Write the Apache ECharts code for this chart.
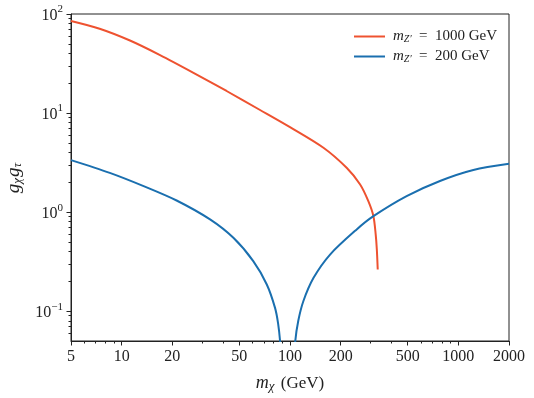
<!DOCTYPE html>
<html>
<head>
<meta charset="utf-8">
<script src="https://cdn.jsdelivr.net/npm/echarts@6/dist/echarts.min.js"></script>
<style>
	html, body { margin: 0; padding: 0; background: #fff; }
	#chart { width: 534px; height: 398px; }
</style>
</head>
<body>
<div id="chart"></div>
<script>
	// m_Z' = 1000 GeV
	var massRed = [5, 7.4, 11.2, 16.9, 26.7, 42, 66, 100, 158, 217, 261, 292, 313, 323, 328, 332];
	var gRed = [85, 71, 54, 38.5, 25.5, 16.7, 10.8, 7.2, 4.46, 2.8, 1.9, 1.29, 0.91, 0.594, 0.42, 0.264];

	// m_Z' = 200 GeV (null = gap at the zero)
	var massBlue = [5, 8.5, 13.5, 21.2, 33.5, 46.1, 60.5, 72.8, 81.5, 85, 87.3, 89, 100, 106, 107.5, 112, 120, 138, 173, 249, 313, 493, 778, 1228, 2000];
	var gBlue = [3.35, 2.49, 1.83, 1.31, 0.844, 0.55, 0.32, 0.186, 0.108, 0.075, 0.05, 0.03, null, 0.03, 0.05, 0.08, 0.126, 0.217, 0.373, 0.669, 0.91, 1.45, 2.06, 2.66, 3.07];

	var xMajor = [5, 10, 20, 50, 100, 200, 500, 1000, 2000];
	var xMinor = [6, 7, 8, 9, 30, 40, 60, 70, 80, 90, 300, 400, 600, 700, 800, 900];
	var yMajor = [0.1, 1, 10, 100];
	var yMajorExp = ['\u22121', '0', '1', '2'];
	var yMinor = [0.06, 0.07, 0.08, 0.09, 0.2, 0.3, 0.4, 0.5, 0.6, 0.7, 0.8, 0.9,
		2, 3, 4, 5, 6, 7, 8, 9, 20, 30, 40, 50, 60, 70, 80, 90];

	var xMin = 5, xMax = 2000, yMin = 0.05, yMax = 100;

	var lg = function(v) { return Math.log10(v); };
	var toPoints = function(xs, ys) {
		var pts = [];
		for (var i = 0; i < xs.length; i++) {
			pts.push(ys[i] == null ? [lg(xs[i]), null] : [lg(xs[i]), lg(ys[i])]);
		}
		return pts;
	};

	var serif = 'Liberation Serif';
	var axisColor = '#222';

	var baseX = function() {
		return {
			type: 'value', min: lg(xMin), max: lg(xMax), position: 'bottom',
			splitLine: { show: false },
			axisLine: { show: true, onZero: false, lineStyle: { color: axisColor, width: 1 } }
		};
	};
	var baseY = function() {
		return {
			type: 'value', min: lg(yMin), max: lg(yMax), position: 'left',
			splitLine: { show: false },
			axisLine: { show: true, onZero: false, lineStyle: { color: axisColor, width: 1 } }
		};
	};

	var xMain = baseX();
	xMain.axisTick = { show: true, length: 4.5, customValues: xMajor.map(lg), lineStyle: { color: axisColor } };
	xMain.axisLabel = {
		customValues: xMajor.map(lg), margin: 8,
		fontFamily: serif, fontSize: 16, color: '#222',
		formatter: function(v) { return String(Math.round(Math.pow(10, v))); }
	};
	xMain.name = '{i|m}{s|\u03c7} (GeV)';
	xMain.nameLocation = 'middle';
	xMain.nameGap = 33;
	xMain.nameTextStyle = {
		fontFamily: serif, fontSize: 17, color: '#222',
		rich: {
			i: { fontFamily: serif, fontStyle: 'italic', fontSize: 18, color: '#222' },
			s: { fontFamily: serif, fontStyle: 'italic', fontSize: 13, color: '#222', verticalAlign: 'bottom', padding: [6, 2, 0, 0] }
		}
	};

	var xSub = baseX();
	xSub.axisLine = { show: false, onZero: false };
	xSub.axisTick = { show: true, length: 2.5, customValues: xMinor.map(lg), lineStyle: { color: axisColor } };
	xSub.axisLabel = { show: false };

	var yMain = baseY();
	yMain.axisTick = { show: true, length: 4.5, customValues: yMajor.map(lg), lineStyle: { color: axisColor } };
	yMain.axisLabel = {
		customValues: yMajor.map(lg), margin: 8,
		fontFamily: serif, fontSize: 16, color: '#222',
		formatter: function(v) {
			var k = Math.round(v);
			return '{b|10}{e|' + yMajorExp[k + 1] + '}';
		},
		rich: {
			b: { fontFamily: serif, fontSize: 16, color: '#222', padding: [4, 0, 0, 0] },
			e: { fontFamily: serif, fontSize: 11, color: '#222', verticalAlign: 'top', padding: [0, 0, 6, 0] }
		}
	};
	yMain.name = '{i|g}{s|\u03c7}{i|g}{s|\u03c4}';
	yMain.nameLocation = 'middle';
	yMain.nameGap = 36;
	yMain.nameTextStyle = {
		fontFamily: serif, fontSize: 17, color: '#222',
		rich: {
			i: { fontFamily: serif, fontStyle: 'italic', fontSize: 19, color: '#222' },
			s: { fontFamily: serif, fontStyle: 'italic', fontSize: 13, color: '#222', verticalAlign: 'bottom', padding: [7, 1, 0, 0] }
		}
	};

	var ySub = baseY();
	ySub.axisLine = { show: false, onZero: false };
	ySub.axisTick = { show: true, length: 2.5, customValues: yMinor.map(lg), lineStyle: { color: axisColor } };
	ySub.axisLabel = { show: false };

	var legendRich = {
		i: { fontFamily: serif, fontStyle: 'italic', fontSize: 15, color: '#222' },
		s: { fontFamily: serif, fontStyle: 'italic', fontSize: 10, color: '#222', verticalAlign: 'bottom', padding: [4, 0, 0, 0] },
		t: { fontFamily: serif, fontSize: 15, color: '#222' }
	};
	var legendNames = {
		'red': '{i|m}{s|Z\u2032}{t|  =  1000 GeV}',
		'blue': '{i|m}{s|Z\u2032}{t|  =  200 GeV}'
	};

	var option = {
		animation: false,
		grid: {
			left: 71, right: 25, top: 14, bottom: 57, outerBoundsMode: 'none',
			show: true, borderColor: axisColor, borderWidth: 1
		},
		legend: {
			orient: 'vertical', left: 349, top: 24,
			icon: 'rect', itemWidth: 31, itemHeight: 2, itemGap: 5,
			data: ['red', 'blue'],
			formatter: function(name) { return legendNames[name]; },
			textStyle: { fontFamily: serif, fontSize: 15, lineHeight: 15, padding: [0, 0, 0, 3], rich: legendRich }
		},
		xAxis: [xMain, xSub],
		yAxis: [yMain, ySub],
		series: [
			{
				name: 'red', type: 'line', data: toPoints(massRed, gRed),
				showSymbol: false, smooth: 0.3,
				lineStyle: { color: '#ee5230', width: 2 }, itemStyle: { color: '#ee5230' }
			},
			{
				name: 'blue', type: 'line', data: toPoints(massBlue, gBlue),
				showSymbol: false, smooth: 0.3, connectNulls: false,
				lineStyle: { color: '#1a6faf', width: 2 }, itemStyle: { color: '#1a6faf' }
			}
		]
	};

	var myChart = echarts.init(document.getElementById('chart'), null, { renderer: 'canvas' });
	myChart.setOption(option);
</script>
</body>
</html>
